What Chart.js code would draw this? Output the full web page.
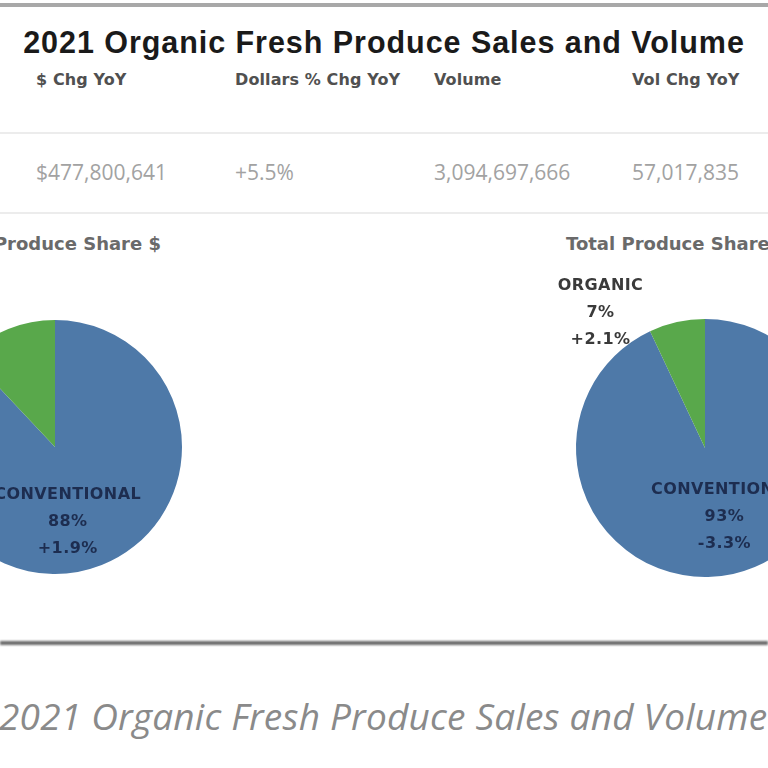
<!DOCTYPE html>
<html>
<head>
<meta charset="utf-8">
<script src="https://cdn.jsdelivr.net/npm/chart.js@4.4.1/dist/chart.umd.min.js"></script>
<style>
  html, body { margin: 0; padding: 0; background: #fff; }
  body { width: 768px; height: 768px; overflow: hidden; position: relative; font-family: "Liberation Sans", Arial, sans-serif; }
  .abs { position: absolute; white-space: nowrap; }
  #title { left: 0; width: 768px; top: 25px; text-align: center; font-weight: bold; font-size: 30.5px; color: #1a1a1a; letter-spacing: 0.95px; }
  .hdr { top: 70px; font-family: "DejaVu Sans", sans-serif; font-weight: bold; font-size: 16px; color: #505050; letter-spacing: 0.1px; }
  .val { top: 158px; font-family: "Open Sans", sans-serif; font-size: 21px; color: #a2a2a2; }
  .rule { position: absolute; left: 0; width: 768px; height: 2px; background: #ececec; }
  #topline { position: absolute; left: 0; top: 3px; width: 768px; height: 4px; background: #a8a8a8; filter: blur(0.6px); }
  #botline { position: absolute; left: 0; top: 641px; width: 768px; height: 4px; background: #6a6a6a; filter: blur(0.8px); }
  .sub { top: 233px; font-family: "DejaVu Sans", sans-serif; font-weight: bold; font-size: 18px; color: #6a6a6a; }
  #caption { left: -1px; top: 690px; font-family: "Open Sans", sans-serif; font-style: italic; font-size: 37px; color: #8a8a8a; letter-spacing: 0.2px; }
  canvas { position: absolute; }
</style>
</head>
<body>
<div id="topline"></div>
<div id="title" class="abs"></div>
<div id="headers"></div>
<div class="rule" style="top:132px"></div>
<div class="rule" style="top:212px"></div>
<div id="sub1" class="abs sub"></div>
<div id="sub2" class="abs sub"></div>
<div id="wrap1" class="abs" style="left:-145px; top:247px; width:400px; height:400px;"><canvas id="pie1"></canvas></div>
<div id="wrap2" class="abs" style="left:505px; top:248px; width:400px; height:400px;"><canvas id="pie2"></canvas></div>
<div id="botline"></div>
<div id="caption" class="abs"></div>
<script>
// ---- data ----
const chartTitle = '2021 Organic Fresh Produce Sales and Volume';
const headerLabels = ['$ Chg YoY', 'Dollars % Chg YoY', 'Volume', 'Vol Chg YoY'];
const headerValues = ['$477,800,641', '+5.5%', '3,094,697,666', '57,017,835'];
const categories = ['CONVENTIONAL', 'ORGANIC'];
const dollarShare = [88, 12];
const dollarChange = ['+1.9%', '+5.5%'];
const volumeShare = [93, 7];
const volumeChange = ['-3.3%', '+2.1%'];
const pieTitles = ['Total Produce Share $', 'Total Produce Share Volume'];
const captionText = '2021 Organic Fresh Produce Sales and Volume';

// ---- layout / styling ----
const colX = [36, 235, 434, 632];
const sliceColors = ['#4e79a8', '#59a84b'];

document.getElementById('title').textContent = chartTitle;
const hdrBox = document.getElementById('headers');
headerLabels.forEach((t, i) => {
  const d = document.createElement('div'); d.className = 'abs hdr'; d.style.left = colX[i] + 'px'; d.textContent = t; hdrBox.appendChild(d);
  const v = document.createElement('div'); v.className = 'abs val'; v.style.left = colX[i] + 'px'; v.textContent = headerValues[i]; hdrBox.appendChild(v);
});
const s1 = document.getElementById('sub1'); s1.textContent = pieTitles[0]; s1.style.right = (768 - 161) + 'px';
const s2 = document.getElementById('sub2'); s2.textContent = pieTitles[1]; s2.style.left = '566px';
document.getElementById('caption').textContent = captionText;

const sliceLabels = {
  id: 'sliceLabels',
  afterDatasetsDraw(chart, args, opts) {
    const ctx = chart.ctx;
    const meta = chart.getDatasetMeta(0);
    const ds = chart.data.datasets[0];
    meta.data.forEach((arc, i) => {
      const r = arc.outerRadius;
      const off = opts.offsets[i];
      const x = arc.x + off[0] * r, y = arc.y + off[1] * r;
      const lines = [chart.data.labels[i], ds.data[i] + '%', ds.changes[i]];
      ctx.save();
      ctx.font = 'bold 16px "DejaVu Sans", sans-serif';
      ctx.fillStyle = opts.colors[i];
      ctx.textAlign = 'center';
      ctx.textBaseline = 'middle';
      if (ctx.letterSpacing !== undefined) ctx.letterSpacing = '0.4px';
      lines.forEach((ln, k) => ctx.fillText(ln, x, y + (k - 1) * 27));
      ctx.restore();
    });
  }
};

function makePie(id, values, changes, pad, offsets) {
  new Chart(document.getElementById(id), {
    type: 'pie',
    data: { labels: categories, datasets: [{ data: values, changes: changes, backgroundColor: sliceColors, borderWidth: 0 }] },
    options: {
      responsive: true, maintainAspectRatio: false, animation: false,
      layout: { padding: pad },
      plugins: { legend: { display: false }, tooltip: { enabled: false },
        sliceLabels: { offsets: offsets, colors: ['#1d2d50', '#3a3a3a'] } }
    },
    plugins: [sliceLabels]
  });
}
makePie('pie1', dollarShare, dollarChange, 73, [[0.10, 0.59], [-1.0, -0.85]]);
makePie('pie2', volumeShare, volumeChange, 71, [[0.15, 0.53], [-0.81, -1.05]]);
</script>
</body>
</html>
